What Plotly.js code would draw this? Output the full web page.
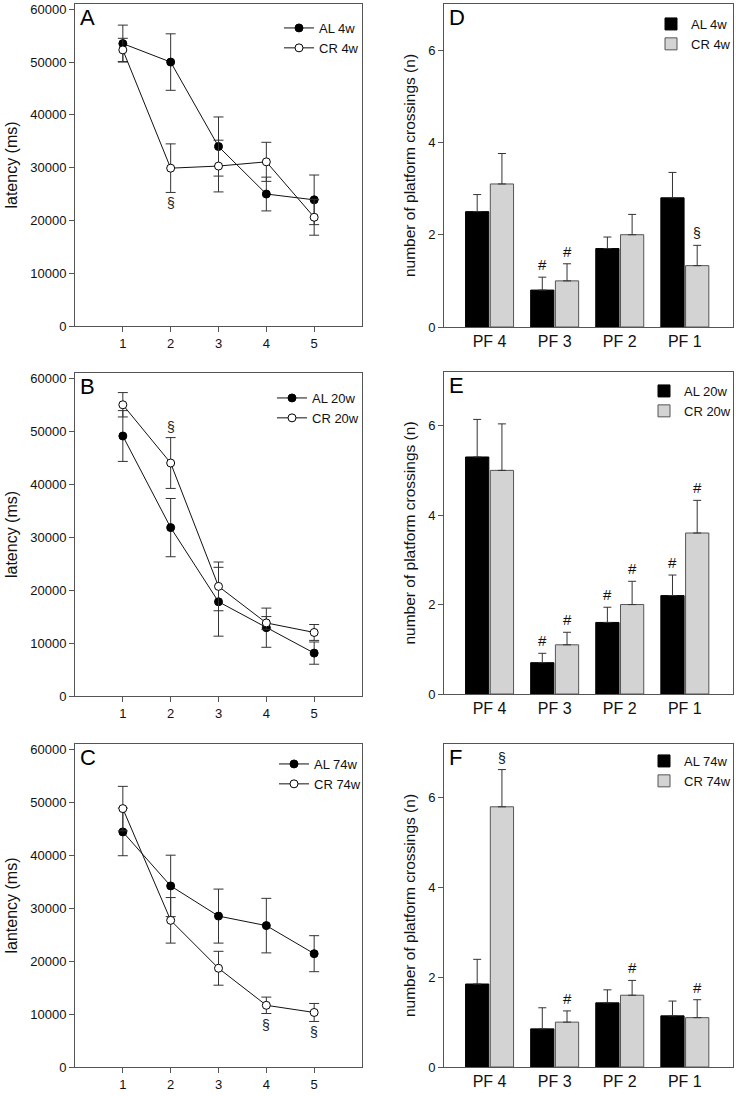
<!DOCTYPE html>
<html>
<head>
<meta charset="utf-8">
<script src="https://cdn.plot.ly/plotly-3.0.1.min.js"></script>
<style>
  html, body { margin: 0; padding: 0; background: #fff; }
  #chart { width: 736px; height: 1096px; }
</style>
</head>
<body>
<div id="chart"></div>
<script>
// ---------- data ----------
const trials = [1, 2, 3, 4, 5];

// Panel A (4 weeks) latency, ms
const A_AL = [53500, 50000, 34000, 25000, 23900];
const A_AL_err = [3500, 5350, 5600, 3200, 4700];
const A_CR = [52300, 29900, 30300, 31100, 20600];
const A_CR_err = [2200, 4600, 4900, 3700, 3400];
const A_marks = ['', '§', '', '', ''];

// Panel B (20 weeks)
const B_AL = [49100, 31800, 17800, 12900, 8100];
const B_AL_err = [4800, 5500, 6500, 3700, 2100];
const B_CR = [55000, 44000, 20700, 13800, 12000];
const B_CR_err = [2300, 4800, 4600, 1200, 1500];
const B_marks = ['', '§', '', '', ''];

// Panel C (74 weeks)
const C_AL = [44400, 34200, 28500, 26700, 21400];
const C_AL_err = [4500, 5800, 5100, 5150, 3400];
const C_CR = [48800, 27700, 18650, 11650, 10300];
const C_CR_err = [4200, 4300, 3200, 1550, 1700];
const C_marks = ['', '', '', '§', '§'];

// Probe trial: platform crossings
const zones = ['PF 4', 'PF 3', 'PF 2', 'PF 1'];

const D_AL = [2.5, 0.8, 1.7, 2.8];
const D_AL_err = [0.37, 0.28, 0.25, 0.55];
const D_CR = [3.1, 1.0, 2.0, 1.33];
const D_CR_err = [0.66, 0.37, 0.44, 0.44];
const D_AL_marks = ['', '#', '', ''];
const D_CR_marks = ['', '#', '', '§'];

const E_AL = [5.3, 0.7, 1.6, 2.2];
const E_AL_err = [0.84, 0.21, 0.34, 0.46];
const E_CR = [5.0, 1.1, 2.0, 3.6];
const E_CR_err = [1.04, 0.28, 0.52, 0.73];
const E_AL_marks = ['', '#', '#', '#'];
const E_CR_marks = ['', '#', '#', '#'];

const F_AL = [1.85, 0.85, 1.43, 1.14];
const F_AL_err = [0.55, 0.47, 0.29, 0.33];
const F_CR = [5.8, 1.0, 1.6, 1.1];
const F_CR_err = [0.83, 0.25, 0.33, 0.40];
const F_AL_marks = ['', '', '', ''];
const F_CR_marks = ['§', '#', '#', '#'];

// ---------- styling ----------
const FONT = 'Liberation Sans, Arial, Helvetica, sans-serif';
const W = 736, H = 1096;
const px = v => v / W;
const py = v => 1 - v / H;
const FRAME = '#555';
const ERR = '#333';

function lineTraces(al, alErr, cr, crErr, tag, xa, ya, leg) {
  return [
    {
      x: trials, y: al, name: 'AL ' + tag, type: 'scatter', mode: 'lines+markers',
      xaxis: xa, yaxis: ya, legend: leg,
      line: { color: '#111', width: 1 },
      marker: { size: 8, color: '#000', line: { color: '#000', width: 1 } },
      error_y: { type: 'data', array: alErr, visible: true, color: ERR, thickness: 1, width: 5 }
    },
    {
      x: trials, y: cr, name: 'CR ' + tag, type: 'scatter', mode: 'lines+markers',
      xaxis: xa, yaxis: ya, legend: leg,
      line: { color: '#111', width: 1 },
      marker: { size: 8, color: '#fff', line: { color: '#000', width: 1 } },
      error_y: { type: 'data', array: crErr, visible: true, color: ERR, thickness: 1, width: 5 }
    }
  ];
}

function barTraces(al, alErr, cr, crErr, tag, xa, ya, leg) {
  const zeros = al.map(() => 0);
  return [
    {
      x: zones, y: al, name: 'AL ' + tag, type: 'bar', xaxis: xa, yaxis: ya, legend: leg,
      marker: { color: '#000', line: { color: '#000', width: 1 } },
      error_y: { type: 'data', symmetric: false, array: alErr, arrayminus: zeros, visible: true, color: ERR, thickness: 1, width: 4 }
    },
    {
      x: zones, y: cr, name: 'CR ' + tag, type: 'bar', xaxis: xa, yaxis: ya, legend: leg,
      marker: { color: '#d3d3d3', line: { color: '#555', width: 1 } },
      error_y: { type: 'data', symmetric: false, array: crErr, arrayminus: zeros, visible: true, color: ERR, thickness: 1, width: 4 }
    }
  ];
}

const data = [].concat(
  lineTraces(A_AL, A_AL_err, A_CR, A_CR_err, '4w', 'x', 'y', 'legend'),
  barTraces(D_AL, D_AL_err, D_CR, D_CR_err, '4w', 'x2', 'y2', 'legend2'),
  lineTraces(B_AL, B_AL_err, B_CR, B_CR_err, '20w', 'x3', 'y3', 'legend3'),
  barTraces(E_AL, E_AL_err, E_CR, E_CR_err, '20w', 'x4', 'y4', 'legend4'),
  lineTraces(C_AL, C_AL_err, C_CR, C_CR_err, '74w', 'x5', 'y5', 'legend5'),
  barTraces(F_AL, F_AL_err, F_CR, F_CR_err, '74w', 'x6', 'y6', 'legend6')
);

const colL = [px(75), px(362)];
const colR = [px(444), px(733)];

function lineX(anchor) {
  return {
    domain: colL, anchor: anchor, range: [0, 6], tickvals: trials, ticktext: trials.map(String),
    showline: true, mirror: true, linecolor: FRAME, linewidth: 1,
    ticks: 'outside', ticklen: 5, tickcolor: FRAME, showgrid: false, zeroline: false,
    tickfont: { family: FONT, size: 13, color: '#111' }
  };
}
function lineY(anchor, dom, title) {
  return {
    domain: dom, anchor: anchor, range: [0, 61000], tickvals: [0, 10000, 20000, 30000, 40000, 50000, 60000],
    tickformat: 'd',
    showline: true, mirror: true, linecolor: FRAME, linewidth: 1,
    ticks: 'outside', ticklen: 5, tickcolor: FRAME, showgrid: false, zeroline: false,
    tickfont: { family: FONT, size: 13, color: '#111' },
    title: { text: title, font: { family: FONT, size: 16, color: '#111' }, standoff: 8 }
  };
}
function barX(anchor) {
  return {
    domain: colR, anchor: anchor, type: 'category', range: [-0.7, 3.74],
    showline: true, mirror: true, linecolor: FRAME, linewidth: 1,
    ticks: '', showgrid: false, zeroline: false,
    tickfont: { family: FONT, size: 16, color: '#111' }
  };
}
function barY(anchor, dom, top) {
  return {
    domain: dom, anchor: anchor, range: [0, top], tickvals: [0, 2, 4, 6],
    showline: true, mirror: true, linecolor: FRAME, linewidth: 1,
    ticks: 'outside', ticklen: 5, tickcolor: FRAME, showgrid: false, zeroline: false,
    tickfont: { family: FONT, size: 13, color: '#111' },
    title: { text: 'number of platform crossings (n)', font: { family: FONT, size: 15.5, color: '#111' }, standoff: 8 }
  };
}

function legendAt(rightPx, topPx) {
  return {
    x: px(rightPx), y: py(topPx), xanchor: 'right', yanchor: 'top',
    bgcolor: 'rgba(0,0,0,0)', borderwidth: 0, tracegroupgap: 0,
    font: { family: FONT, size: 13, color: '#111' }
  };
}

const annotations = [];
function letter(t, lx, ty) {
  annotations.push({
    text: t, xref: 'paper', yref: 'paper', x: px(lx), y: py(ty), xanchor: 'left', yanchor: 'top',
    showarrow: false, font: { family: FONT, size: 22, color: '#000' }
  });
}
letter('A', 78, 3); letter('D', 447, 3);
letter('B', 78, 372); letter('E', 447, 371);
letter('C', 78, 743); letter('F', 447, 743);

function lineMarks(marks, vals, errs, xa, ya, below) {
  marks.forEach((m, i) => {
    if (!m) return;
    annotations.push({
      text: m, xref: xa, yref: ya, x: trials[i], y: below ? vals[i] - errs[i] : vals[i] + errs[i],
      yanchor: below ? 'top' : 'bottom', yshift: below ? -1 : 1, showarrow: false,
      font: { family: FONT, size: 14, color: '#222' }
    });
  });
}
lineMarks(A_marks, A_CR, A_CR_err, 'x', 'y', true);
lineMarks(B_marks, B_CR, B_CR_err, 'x3', 'y3', false);
lineMarks(C_marks, C_CR, C_CR_err, 'x5', 'y5', true);

function barMarks(marks, vals, errs, xa, ya, offset) {
  marks.forEach((m, i) => {
    if (!m) return;
    annotations.push({
      text: m, xref: xa, yref: ya, x: i + offset, y: vals[i] + errs[i],
      yanchor: 'bottom', yshift: 2, showarrow: false,
      font: { family: FONT, size: m === '#' ? 15 : 14, color: '#111' }
    });
  });
}
const OFF = 0.19;
barMarks(D_AL_marks, D_AL, D_AL_err, 'x2', 'y2', -OFF);
barMarks(D_CR_marks, D_CR, D_CR_err, 'x2', 'y2', OFF);
barMarks(E_AL_marks, E_AL, E_AL_err, 'x4', 'y4', -OFF);
barMarks(E_CR_marks, E_CR, E_CR_err, 'x4', 'y4', OFF);
barMarks(F_AL_marks, F_AL, F_AL_err, 'x6', 'y6', -OFF);
barMarks(F_CR_marks, F_CR, F_CR_err, 'x6', 'y6', OFF);

const layout = {
  width: W, height: H,
  margin: { l: 0, r: 0, t: 0, b: 0 },
  paper_bgcolor: '#fff', plot_bgcolor: '#fff',
  font: { family: FONT, color: '#111' },
  barmode: 'group', bargap: 0.24, bargroupgap: 0.06,
  showlegend: true,
  xaxis: lineX('y'),   yaxis: lineY('x', [py(326), py(4)], 'latency (ms)'),
  xaxis2: barX('y2'),  yaxis2: barY('x2', [py(327), py(4)], 7.0),
  xaxis3: lineX('y3'), yaxis3: lineY('x3', [py(696), py(373)], 'latency (ms)'),
  xaxis4: barX('y4'),  yaxis4: barY('x4', [py(694), py(372)], 7.2),
  xaxis5: lineX('y5'), yaxis5: lineY('x5', [py(1067), py(744)], 'lantency (ms)'),
  xaxis6: barX('y6'),  yaxis6: barY('x6', [py(1067), py(744)], 7.2),
  legend: legendAt(364, 13),
  legend2: legendAt(736, 9),
  legend3: legendAt(364, 383),
  legend4: legendAt(736, 376),
  legend5: legendAt(366, 749),
  legend6: legendAt(736, 746),
  annotations: annotations
};

Plotly.newPlot('chart', data, layout, { staticPlot: true, displayModeBar: false });
</script>
</body>
</html>
